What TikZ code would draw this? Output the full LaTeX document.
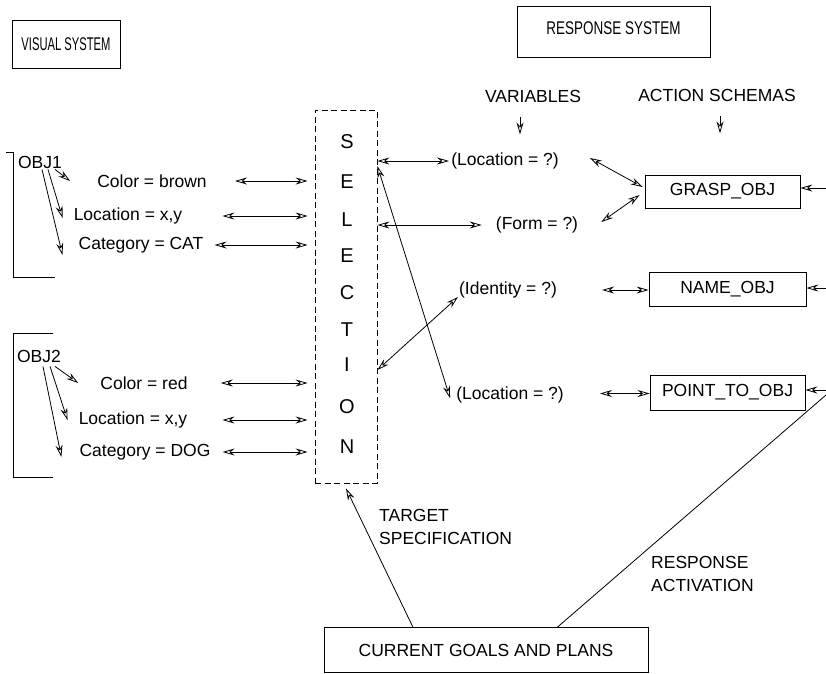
\documentclass[tikz,border=0pt]{standalone}
\usepackage{fontspec}
\usepackage{graphicx}
\setmainfont{Liberation Sans}
\usetikzlibrary{arrows.meta,calc}
\begin{document}
\begin{tikzpicture}[x=1pt,y=-1pt,
  every node/.style={font=\fontsize{17.5}{23}\selectfont, inner sep=1pt},
  box/.style={draw, line width=0.8pt, inner sep=0pt},
  selbox/.style={draw, line width=0.8pt, dash pattern=on 6pt off 3.5pt, inner sep=0pt},
  letter/.style={font=\fontsize{20}{24}\selectfont, inner sep=0pt},
  ln/.style={line width=0.8pt},
  hd/.style={},
  arr/.style={ln, -{Stealth[open,length=12pt,width=7pt,inset=4pt]}},
  dbl/.style={ln, {Stealth[open,length=12pt,width=7pt,inset=4pt]}-{Stealth[open,length=12pt,width=7pt,inset=4pt]}}
]
\fill[white] (0,0) rectangle (826,673);
\useasboundingbox (0,0) rectangle (826,673);

% top boxes
\node[box, minimum width=108pt, minimum height=48pt] (vis) at (66,44.5) {\scalebox{0.64}[1.05]{VISUAL SYSTEM}};
\node[box, minimum width=193pt, minimum height=51pt, text depth=7pt] (resp) at (613.5,31.5) {\scalebox{0.77}[1.05]{RESPONSE SYSTEM}};

% brackets
\draw[ln] (6,152) -- (13,152) -- (13,277) -- (55,277);
\draw[ln] (53,333) -- (13,333) -- (13,477) -- (53,477);

% object 1
\node (obj1) at (40,162) {OBJ1};
\node (c1) at (152,181) {Color = brown};
\node (l1) at (128,216) {Location = x,y};
\node (k1) at (141,245) {Category = CAT};
% object 2
\node (obj2) at (39,356) {OBJ2};
\node (c2) at (144,383) {Color = red};
\node (l2) at (133,420) {Location = x,y};
\node (k2) at (145,452) {Category = DOG};

% selection
\node[selbox, minimum width=62pt, minimum height=373pt] (sel) at (346,296.5) {};
\foreach \l/\yy [count=\i] in {S/142,E/182,L/220,E/256,C/293,T/330,I/365,O/407,N/447}
  \node[letter] (s\i) at (347,\yy) {\l};

% obj arrows
\draw[arr] ([xshift=15pt]obj1.south) -- ([xshift=-26pt]c1.west);
\draw[arr] ([xshift=8pt]obj1.south) -- ([xshift=-10pt,yshift=-2pt]l1.west);
\draw[arr] ([xshift=2pt]obj1.south) -- ([xshift=-15pt,yshift=-10pt]k1.west);
\draw[arr] ([xshift=16pt,yshift=-3pt]obj2.south) -- ([xshift=-21pt]c2.west);
\draw[arr] ([xshift=11pt,yshift=-3pt]obj2.south) -- ([xshift=-10pt]l2.west);
\draw[arr] ([xshift=4pt,yshift=-3pt]obj2.south) -- ([xshift=-17pt,yshift=-5pt]k2.west);

% attribute <-> selection
\draw[dbl, shorten >=7pt] ([xshift=27pt]c1.east) -- (c1.east -| sel.west);
\draw[dbl, shorten >=7pt] ([xshift=39pt]l1.east) -- (l1.east -| sel.west);
\draw[dbl, shorten >=7pt] ([xshift=10pt]k1.east) -- (k1.east -| sel.west);
\draw[dbl, shorten >=7pt] ([xshift=32pt]c2.east) -- (c2.east -| sel.west);
\draw[dbl, shorten >=7pt] ([xshift=34pt]l2.east) -- (l2.east -| sel.west);
\draw[dbl, shorten >=7pt] ([xshift=11pt]k2.east) -- (k2.east -| sel.west);

% headings
\node (varl) at (533,96) {VARIABLES};
\node (actl) at (717,95) {ACTION SCHEMAS};
\draw[arr] ([xshift=-13pt,yshift=-14pt]varl.south) -- ++(0,17);
\draw[arr] ([xshift=3pt,yshift=-14pt]actl.south) -- ++(0,17);

% variables
\node (var1) at (505,161) {(Location = ?)};
\node (var2) at (537,225) {(Form = ?)};
\node (var3) at (508,290) {(Identity = ?)};
\node (var4) at (510,395) {(Location = ?)};

% action schemas
\node[box, minimum width=155pt, minimum height=33pt] (grasp) at (722.5,191.5) {GRASP\_OBJ};
\node[box, minimum width=157pt, minimum height=34pt] (name) at (727.5,289) {NAME\_OBJ};
\node[box, minimum width=155pt, minimum height=35pt] (point) at (727.5,392.5) {POINT\_TO\_OBJ};

% selection <-> variables
\draw[dbl] (var1.west -| sel.east) -- ([xshift=-1pt]var1.west);
\draw[dbl] (var2.west -| sel.east) -- ([xshift=-13pt]var2.west);
\draw[dbl] ([yshift=-73.5pt]sel.east) -- ([yshift=-7pt]var3.west);
\draw[dbl] ([yshift=-5pt]var1.west -| sel.east) -- ([xshift=-5pt,yshift=-3pt]var4.west);

% variables <-> schemas
\draw[dbl] ([xshift=30pt,yshift=3pt]var1.east) -- ([xshift=-2pt,yshift=4.5pt]grasp.west);
\draw[dbl] ([xshift=22pt,yshift=3pt]var2.east) -- ([xshift=-5pt,yshift=-3.5pt]grasp.west);
\draw[dbl] ([xshift=44pt]var3.east) -- ([yshift=-1pt]name.west);
\draw[dbl] ([xshift=35pt,yshift=1.5pt]var4.east) -- ([yshift=-1pt]point.west);

% right edge inputs
\coordinate (re1) at (826,188);
\coordinate (re2) at (826,288);
\coordinate (re3) at (826,390);
\draw[arr] (re1) -- (re1 -| grasp.east);
\draw[arr] (re2) -- (re2 -| name.east);
\draw[arr] (re3) -- (re3 -| point.east);

% goals
\node[box, minimum width=324pt, minimum height=45pt] (goals) at (486,650) {CURRENT GOALS AND PLANS};
\coordinate (ra) at (826,395);
\draw[arr] ($(goals.north west)!0.275!(goals.north east)$) -- ([yshift=-5pt]sel.south);
\draw[ln] ($(goals.north west)!0.72!(goals.north east)$) -- (ra);

\node[align=left, anchor=west] (tgt) at (378,526.5) {TARGET\\SPECIFICATION};
\node[align=left, anchor=west] (ract) at (650,573.5) {RESPONSE\\ACTIVATION};
\end{tikzpicture}
\end{document}
